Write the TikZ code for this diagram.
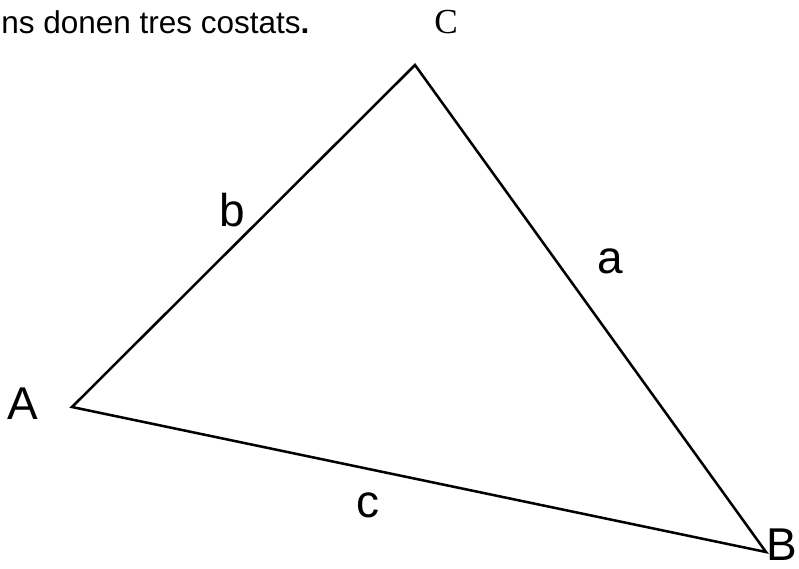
\documentclass[tikz,border=0pt]{standalone}
\usepackage{fontspec}
\setmainfont{Liberation Sans}
\newfontfamily\serifC{Liberation Serif}

\begin{document}
\begin{tikzpicture}[x=0.025cm,y=-0.025cm,line width=1.8pt,
  lbl/.style={inner sep=0pt,anchor=base,font=\fontsize{32.7}{36}\selectfont}]
\useasboundingbox (0,0) rectangle (799,568);
% vèrtexs del triangle
\coordinate (vA) at (72,407);
\coordinate (vB) at (766,552);
\coordinate (vC) at (415,65);
% enunciat (tallat a l'esquerra)
\node[inner sep=0pt,anchor=base west,font=\fontsize{22.4}{26}\selectfont] (enunciat)
  at (0,33) {ns donen tres costats\textbf{.}};
\node[inner sep=0pt,anchor=base,font=\serifC\fontsize{25}{28}\selectfont] (lC) at (446,33) {C};
% costats
\draw[line join=miter] (vA) -- (vB) -- (vC) -- cycle;
% noms dels vèrtexs i dels costats
\node[lbl] (lA) at (22.5,419) {A};
\node[lbl,anchor=base east] (lB) at (798,560) {B};
\node[lbl] (la) at (610,273) {a};
\node[lbl] (lb) at (232,226) {b};
\node[lbl] (lc) at (368,517) {c};
\end{tikzpicture}
\end{document}
